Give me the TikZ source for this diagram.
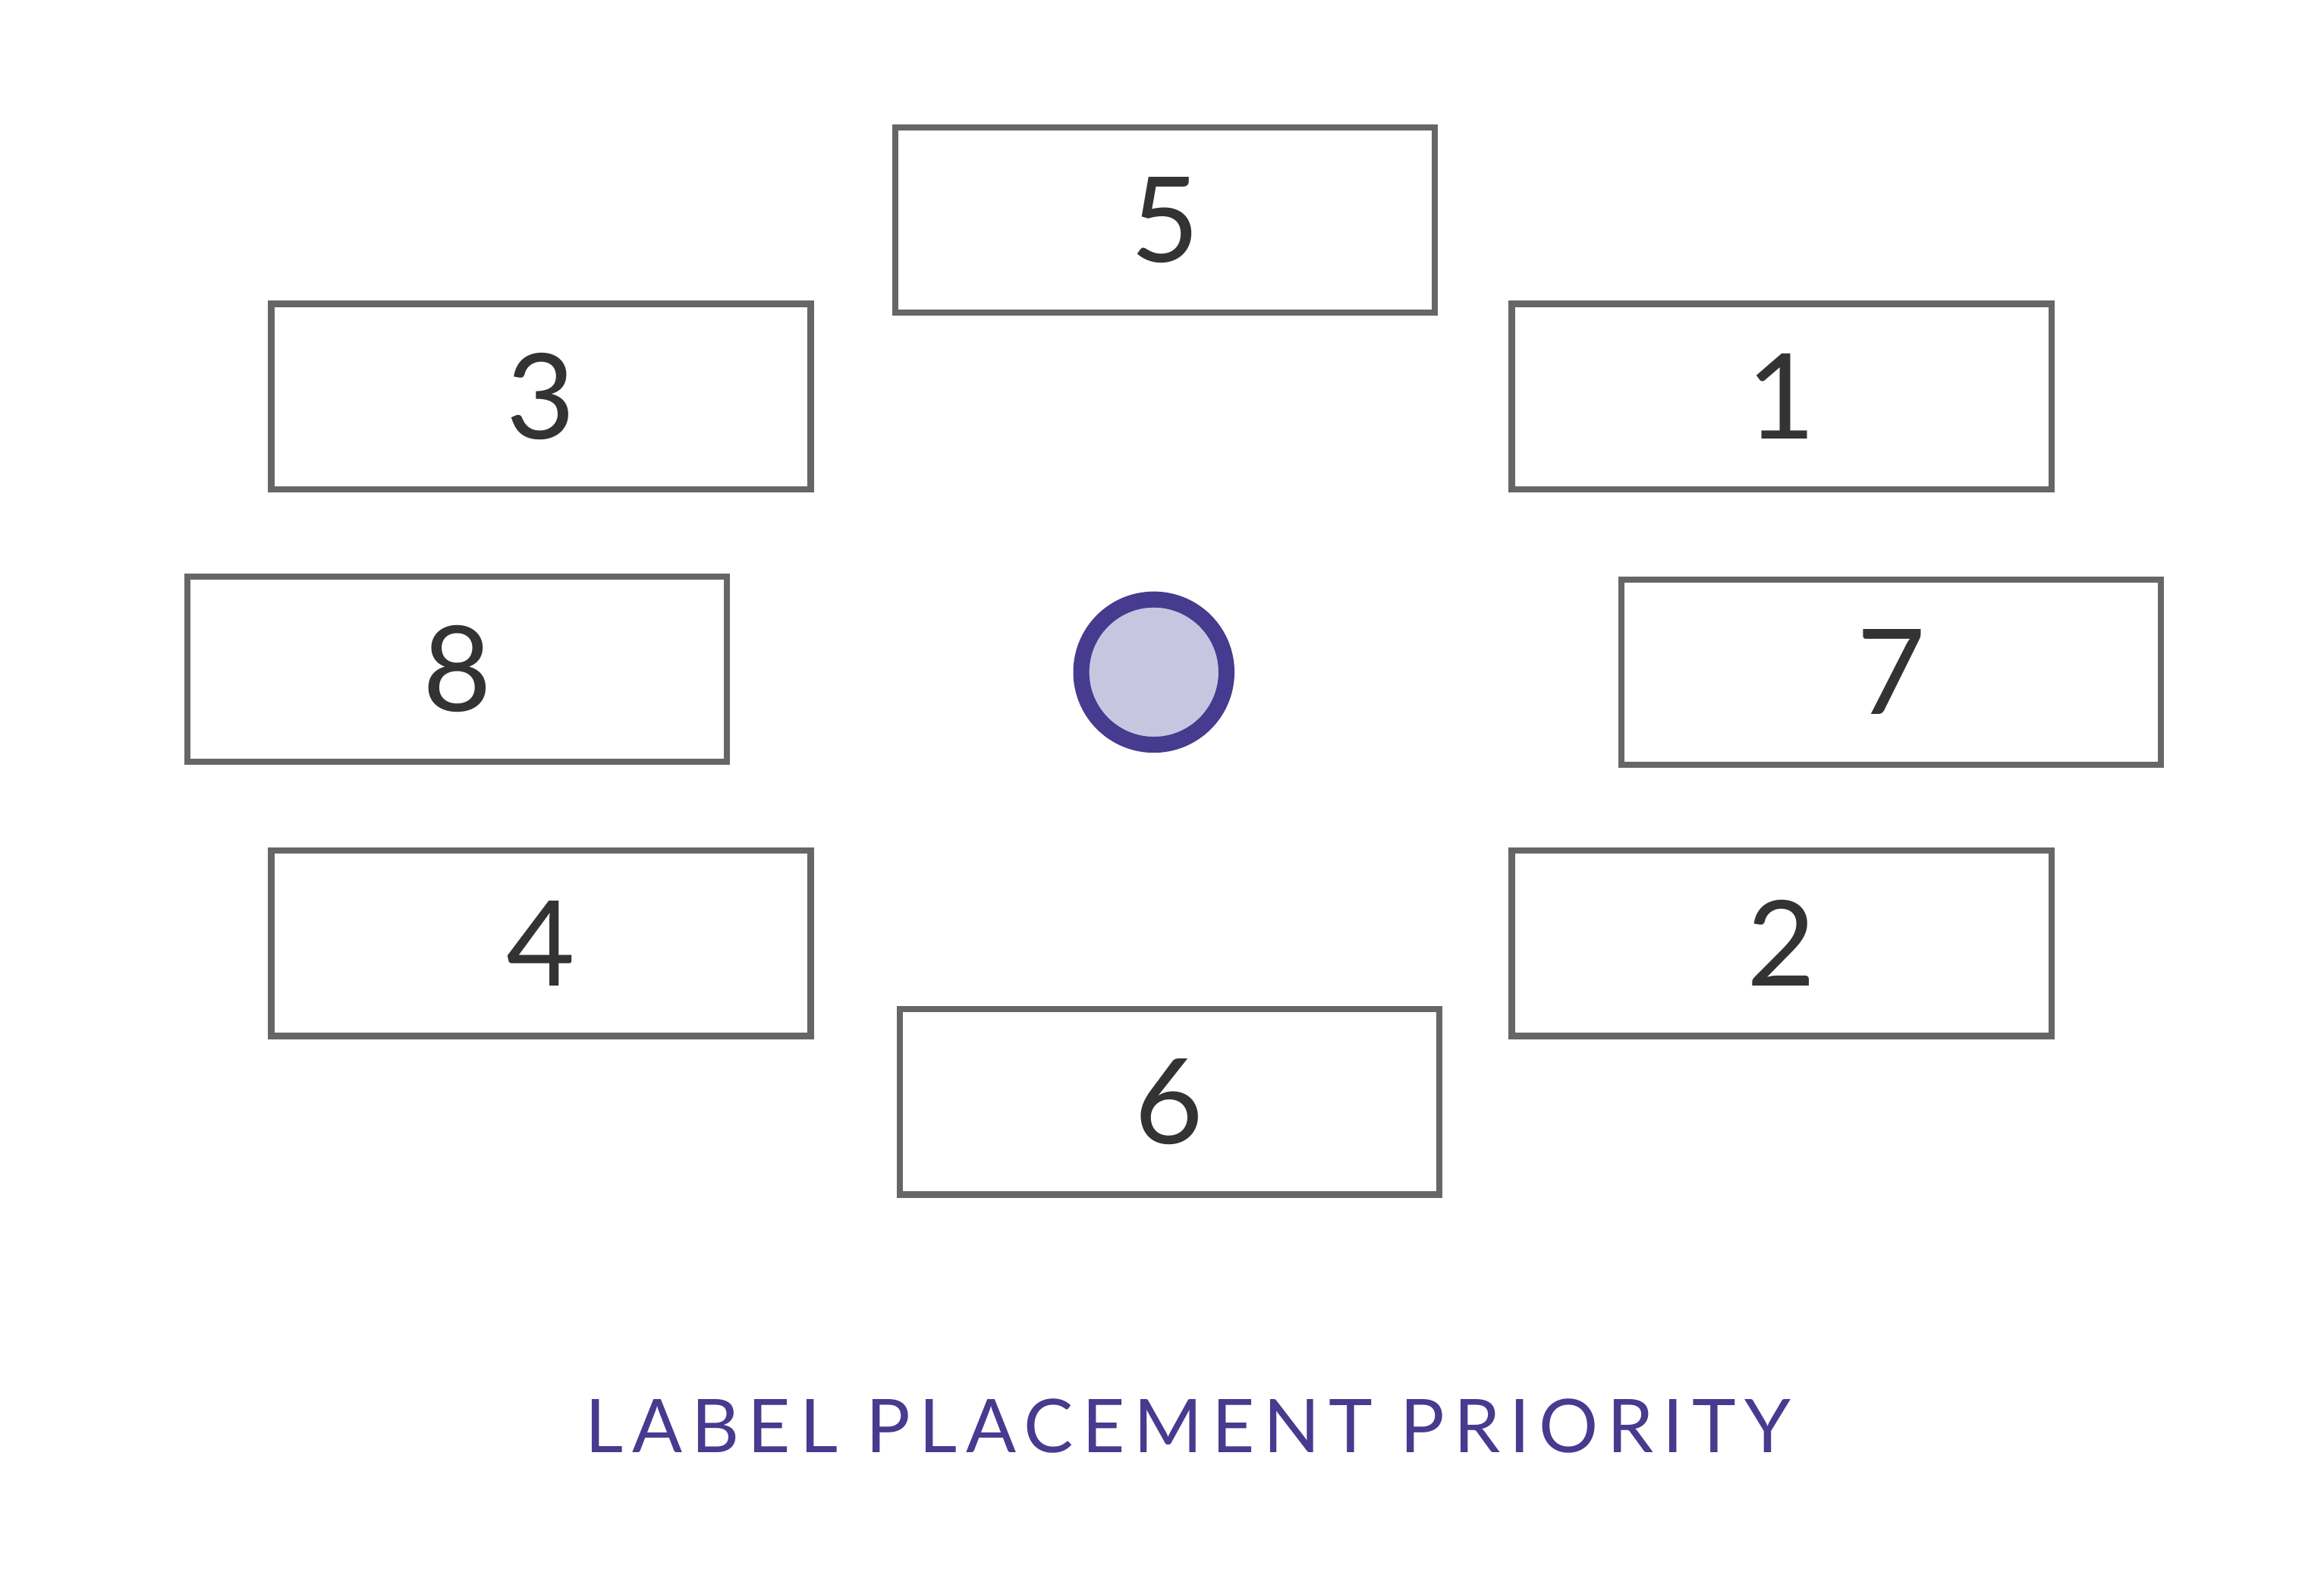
\documentclass[tikz,border=0pt]{standalone}
\usepackage{fontspec}
\setmainfont{Lato}
\newfontfamily\titlefont[LetterSpace=12]{Lato}
\usetikzlibrary{positioning}
\definecolor{BoxGray}{HTML}{666666}
\definecolor{DigitGray}{HTML}{333333}
\definecolor{PointPurple}{HTML}{463B8E}
\definecolor{PointFill}{HTML}{C8C5E1}

\tikzset{
    candidate/.style={draw=BoxGray, line width=2.1pt, minimum width=182pt,
        minimum height=62.5pt, inner sep=0pt, text=DigitGray,
        font=\fontsize{40}{40}\selectfont},
    anchorpoint/.style={circle, draw=PointPurple, fill=PointFill,
        line width=5.4pt, minimum size=49pt, inner sep=0pt}
}

\begin{document}
\begin{tikzpicture}[x=0.5pt, y=-0.5pt]
    \useasboundingbox (0,0) rectangle (1568,1058.6);
    % feature point
    \node[anchorpoint] (point) at (778.5,453.5) {};
    % candidate label positions, numbered by priority
    \node[candidate] (pos5) at (786,148.5) {5};
    \node[candidate] (pos3) at (365,267.5) {3};
    \node[candidate] (pos1) at (1202,267.5) {1};
    \node[candidate] (pos8) at (308.5,451.5) {8};
    \node[candidate] (pos7) at (1276,453.5) {7};
    \node[candidate] (pos4) at (365,636.5) {4};
    \node[candidate] (pos2) at (1202,636.5) {2};
    \node[candidate] (pos6) at (789,743.5) {6};
    % caption
    \node[text=PointPurple, font=\titlefont\fontsize{25}{25}\selectfont]
        (caption) at (801.5,962) {LABEL PLACEMENT PRIORITY};
\end{tikzpicture}
\end{document}
